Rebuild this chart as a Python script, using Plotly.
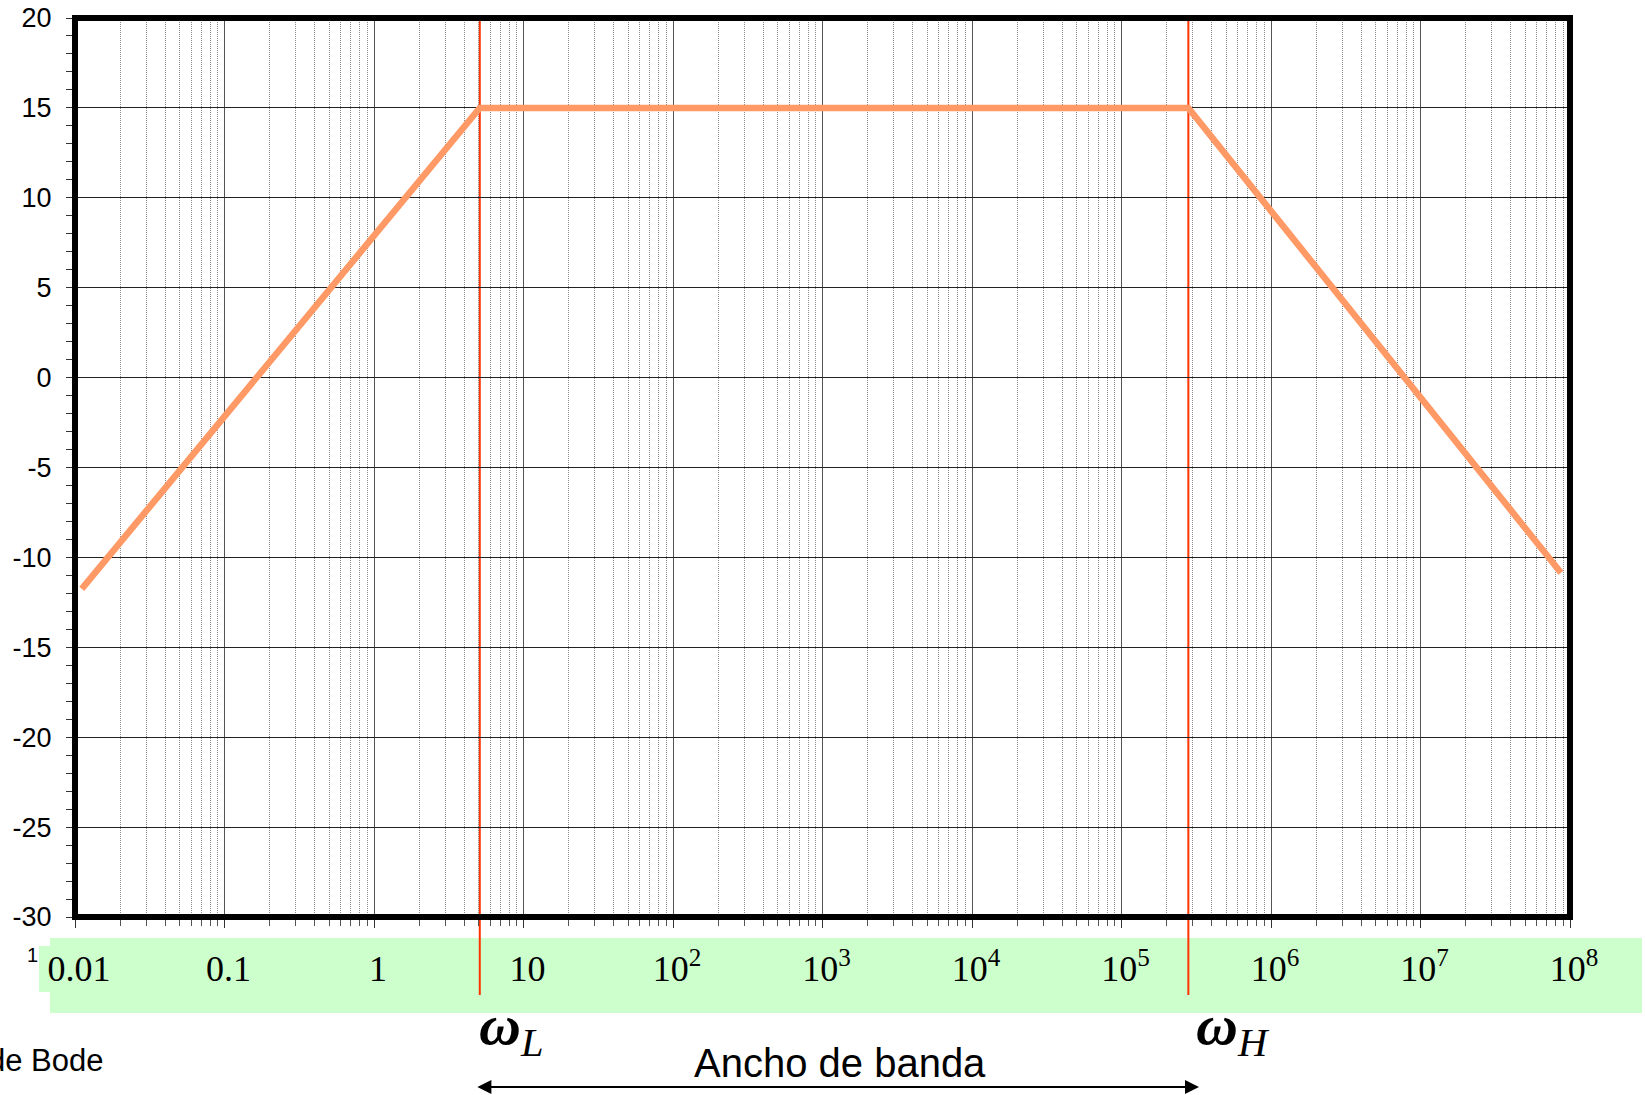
import numpy as np
import plotly.graph_objects as go

# ---- data ----
freq = [0.0111, 5.1, 2.8e5, 8.7e7]          # rad/s
gain_db = [-11.75, 15.0, 15.0, -10.85]       # dB
omega_L = 5.1
omega_H = 2.8e5
x_tick_vals = [0.01, 0.1, 1, 10, 1e2, 1e3, 1e4, 1e5, 1e6, 1e7, 1e8]
x_tick_text = ["0.01", "0.1", "1", "10", "10<sup>2</sup>", "10<sup>3</sup>",
               "10<sup>4</sup>", "10<sup>5</sup>", "10<sup>6</sup>",
               "10<sup>7</sup>", "10<sup>8</sup>"]
y_tick_vals = [-30, -25, -20, -15, -10, -5, 0, 5, 10, 15, 20]
y_tick_text = ["-30", "-25", "-20", "-15", "-10", "-5", "0", "5", "10", "15", "20"]
band_arrow_ends = [4.8, 3.3e5]

W, H = 1645, 1095
ML, MR, MT, MB = 75, 75, 18, 178
PW, PH = W - ML - MR, H - MT - MB


def px(xpix):
    return (xpix - ML) / PW


def py(ypix):
    return (H - MB - ypix) / PH


fig = go.Figure()
fig.add_trace(go.Scatter(
    x=freq, y=gain_db, mode="lines",
    line=dict(color="#FF9966", width=6.5),
    hoverinfo="skip", showlegend=False))

serif = "Liberation Serif, Times New Roman, serif"
sans = "Liberation Sans, Arial, sans-serif"

fig.update_xaxes(
    type="log", range=[-2, 8],
    tickvals=x_tick_vals, ticktext=x_tick_text,
    tickfont=dict(family=serif, size=36, color="black"),
    ticks="outside", ticklen=10, tickwidth=1, tickcolor="#333",
    ticklabelstandoff=10, ticklabelshift=4,
    showgrid=True, gridcolor="#555", gridwidth=1,
    showline=False, zeroline=False,
    minor=dict(dtick="D1", ticks="outside", ticklen=8, tickcolor="#555",
               showgrid=True, gridcolor="#8a8a8a", griddash="1px,1px",
               gridwidth=1),
)
fig.update_yaxes(
    range=[-30, 20], tickvals=y_tick_vals, ticktext=y_tick_text,
    tickfont=dict(family=sans, size=27, color="black"),
    ticks="outside", ticklen=8, tickwidth=1, tickcolor="#333",
    ticklabelstandoff=9,
    showgrid=True, gridcolor="#222", gridwidth=1,
    showline=False, zeroline=False,
    minor=dict(dtick=1, tick0=0, ticks="outside", ticklen=8,
               tickcolor="#333", showgrid=False),
)

shapes = [
    # green band behind the frequency labels
    dict(type="rect", xref="paper", yref="paper",
         x0=px(50), x1=px(1642), y0=py(1013), y1=py(938),
         fillcolor="#CCFFCC", line=dict(width=0), layer="below"),
    dict(type="rect", xref="paper", yref="paper",
         x0=px(39), x1=px(51), y0=py(992), y1=py(946),
         fillcolor="#CCFFCC", line=dict(width=0), layer="below"),
    # corner-frequency markers
    dict(type="line", xref="x", yref="paper", x0=omega_L, x1=omega_L,
         y0=1, y1=py(995), line=dict(color="#FF3300", width=2),
         layer="between"),
    dict(type="line", xref="x", yref="paper", x0=omega_H, x1=omega_H,
         y0=1, y1=py(995), line=dict(color="#FF3300", width=2),
         layer="between"),
    # thick frame
    dict(type="rect", xref="paper", yref="paper", x0=0, x1=1, y0=0, y1=1,
         line=dict(color="black", width=6), layer="above"),
]

annotations = [
    dict(xref="x", yref="paper", x=np.log10(omega_L), y=py(990),
         xanchor="left", yanchor="top", xshift=-3, showarrow=False,
         text="<i><b>ω</b><sub>L</sub></i>",
         font=dict(family=serif, size=58, color="black")),
    dict(xref="x", yref="paper", x=np.log10(omega_H), y=py(990),
         xanchor="left", yanchor="top", xshift=6, showarrow=False,
         text="<i><b>ω</b><sub>H</sub></i>",
         font=dict(family=serif, size=58, color="black")),
    dict(xref="paper", yref="paper", x=px(840), y=py(1063),
         xanchor="center", yanchor="middle", showarrow=False,
         text="Ancho de banda",
         font=dict(family=sans, size=40, color="black")),
    dict(xref="paper", yref="paper", x=px(106), y=py(1060),
         xanchor="right", yanchor="middle", showarrow=False,
         text="Diagrama de Bode",
         font=dict(family=sans, size=31, color="black")),
    dict(xref="paper", yref="paper", x=px(40), y=py(955),
         xanchor="right", yanchor="middle", showarrow=False,
         text="1", font=dict(family=sans, size=20, color="black")),
    dict(xref="x", yref="paper", x=np.log10(band_arrow_ends[1]), y=py(1087),
         axref="x", ax=np.log10(band_arrow_ends[0]), ayref="pixel", ay=0,
         text="", showarrow=True, arrowside="end+start", arrowhead=2,
         startarrowhead=2, arrowsize=1.4, startarrowsize=1.4,
         arrowwidth=2, arrowcolor="black", standoff=0, startstandoff=0),
]

fig.update_layout(
    width=W, height=H,
    margin=dict(l=ML, r=MR, t=MT, b=MB, autoexpand=False),
    paper_bgcolor="white", plot_bgcolor="white",
    shapes=shapes, annotations=annotations,
    showlegend=False,
)

fig.write_html("out.html",
               config=dict(displayModeBar=False),
               post_script="document.body.style.margin='0';"
                           "document.body.style.overflow='hidden';")
